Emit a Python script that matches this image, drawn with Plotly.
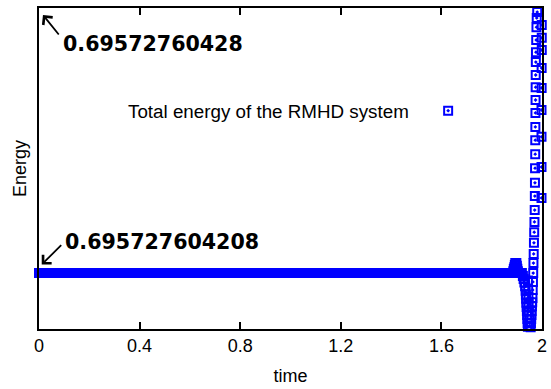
import numpy as np
import plotly.graph_objects as go

# ---------------- data (energy = ENERGY_REF + dev * 1e-12) ----------------
ENERGY_REF = 0.695727604208
ENERGY_TOP = 0.69572760428
ENERGY_BOTTOM_DEV = -15.2

# flat stretch: energy stays at the reference value
flat_start, flat_end, flat_step = 0.0, 1.922, 0.004
flat_level_dev = 0.0

# small bump just before the instability
bump_time = [1.884, 1.886, 1.888, 1.890, 1.892, 1.894, 1.896, 1.898, 1.900, 1.902, 1.904]
bump_dev = [0.0, 0.5, 1.1, 1.6, 2.2, 2.7, 2.7, 2.7, 2.0, 1.2, 0.5]

# drop below the reference level
drop_time = [1.924, 1.927, 1.930, 1.933, 1.935, 1.936, 1.937, 1.938, 1.939, 1.940,
             1.941, 1.942, 1.943, 1.944, 1.946, 1.948]
drop_dev = [-0.8, -1.6, -2.6, -3.6, -4.8, -5.9, -7.0, -8.1, -9.2, -10.3,
            -11.4, -12.5, -13.6, -14.6, -15.6, -15.9]

# oscillating outputs inside the dip
dip_time = [1.944, 1.945, 1.946, 1.947, 1.948, 1.949, 1.950]
dip_dev = [-2.0, -4.5, -6.5, -8.5, -10.5, -12.5, -14.3]

# fast rise
rise_time = [1.951, 1.953, 1.955, 1.956, 1.957, 1.958, 1.9586, 1.960, 1.961, 1.962,
             1.963, 1.964, 1.965, 1.966, 1.967, 1.968, 1.969, 1.970, 1.971, 1.9716,
             1.972, 1.9724, 1.973, 1.9732, 1.9736, 1.974, 1.9744, 1.9748, 1.975, 1.9755,
             1.976, 1.977, 1.978, 1.979, 1.981, 1.983, 1.985, 1.987]
rise_dev = [-15.9, -15.8, -14.7, -13.6, -12.5, -11.4, -10.3, -9.0, -7.9, -6.8,
            -4.6, -2.4, 0.0, 2.7, 5.2, 8.2, 11.1, 13.9, 17.1, 20.9,
            24.5, 28.5, 32.3, 36.1, 39.7, 43.5, 47.0, 50.5, 53.8, 57.3,
            60.0, 63.3, 66.8, 69.3, 70.9, 72.3, 73.1, 73.6]

# last outputs near t = 2
end_time = [1.998, 1.998, 1.998, 1.998, 1.9985, 1.9985, 1.999, 1.999, 1.999]
end_dev = [20.4, 28.8, 37.0, 44.3, 50.3, 55.7, 60.6, 63.9, 67.4]

x_ticks = [0, 0.4, 0.8, 1.2, 1.6, 2]
x_tick_labels = ["0", "0.4", "0.8", "1.2", "1.6", "2"]

legend_label = "Total energy of the RMHD system"
top_label = "0.69572760428"
ref_label = "0.695727604208"

# ---------------- assemble ----------------
flat_time = np.round(np.arange(flat_start, flat_end + 1e-9, flat_step), 4)
flat_dev = np.full(len(flat_time), flat_level_dev)

time = np.concatenate([flat_time, bump_time, drop_time, dip_time, rise_time, end_time])
dev = np.concatenate([flat_dev, bump_dev, drop_dev, dip_dev, rise_dev, end_dev])
energy = ENERGY_REF + dev * 1e-12

E_BOTTOM = ENERGY_REF + ENERGY_BOTTOM_DEV * 1e-12

FONT = "Liberation Sans, Arial, sans-serif"
BOLD = "DejaVu Sans, sans-serif"

fig = go.Figure()
fig.add_trace(go.Scatter(
    x=time, y=energy, mode="markers", name="",
    marker=dict(symbol="square-open-dot", size=8, color="#0000ff",
                line=dict(width=2, color="#0000ff")),
    cliponaxis=False, showlegend=True,
))

fig.update_layout(
    width=551, height=389,
    margin=dict(l=39, r=4, t=8, b=60),
    paper_bgcolor="white", plot_bgcolor="white",
    font=dict(family=FONT, size=18, color="black"),
    xaxis=dict(range=[0, 2], tickvals=x_ticks, ticktext=x_tick_labels,
               ticks="inside", ticklen=7, tickwidth=1.5, tickcolor="black",
               showline=True, linecolor="black", linewidth=1.5, mirror="ticks",
               showgrid=False, zeroline=False,
               tickfont=dict(family=FONT, size=18),
               title=dict(text="time", standoff=14, font=dict(family=FONT, size=18))),
    yaxis=dict(range=[E_BOTTOM, ENERGY_TOP], showticklabels=False, ticks="",
               showline=True, linecolor="black", linewidth=1.5, mirror=True,
               showgrid=False, zeroline=False,
               title=dict(text="Energy", standoff=6, font=dict(family=FONT, size=18))),
    legend=dict(x=(432 - 39) / 508, y=(329 - 111) / 321, xanchor="left", yanchor="middle",
                bgcolor="rgba(0,0,0,0)", borderwidth=0),
    showlegend=True,
)

# legend label (gnuplot style: text left of the sample)
fig.add_annotation(x=(415 - 39) / 508, y=(329 - 111) / 321, xref="paper", yref="paper",
                   text=legend_label, showarrow=False, xanchor="right", yanchor="middle",
                   font=dict(family=FONT, size=18.8, color="black"))

# arrows (empty text)
fig.add_annotation(x=0.0158, y=ENERGY_REF + 70.1e-12, xref="x", yref="y", text="",
                   showarrow=True, arrowhead=4, arrowsize=1.3, arrowwidth=1.8,
                   arrowcolor="black", ax=17, ay=21)
fig.add_annotation(x=0.0108, y=ENERGY_REF + 2.3e-12, xref="x", yref="y", text="",
                   showarrow=True, arrowhead=4, arrowsize=1.3, arrowwidth=1.8,
                   arrowcolor="black", ax=21, ay=-21)
# value labels
fig.add_annotation(x=(61 - 39) / 508, y=(329 - 44) / 321, xref="paper", yref="paper",
                   text="<b>" + top_label + "</b>", showarrow=False, xanchor="left",
                   yanchor="middle", font=dict(family=BOLD, size=20.6, color="black"))
fig.add_annotation(x=(63 - 39) / 508, y=(329 - 242) / 321, xref="paper", yref="paper",
                   text="<b>" + ref_label + "</b>", showarrow=False, xanchor="left",
                   yanchor="middle", font=dict(family=BOLD, size=20.6, color="black"))

fig.write_html("out.html")
